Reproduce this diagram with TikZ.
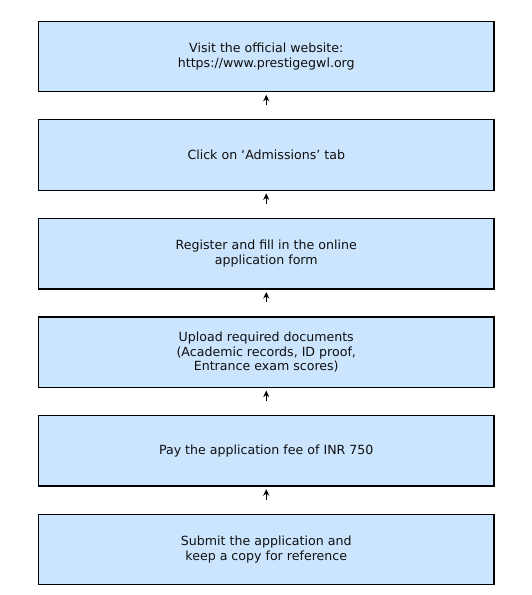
\documentclass[tikz,border=0pt]{standalone}
\usepackage{fontspec}
\setmainfont{DejaVu Sans}
\usetikzlibrary{arrows.meta}
\definecolor{boxfill}{RGB}{204,229,255}
\definecolor{txt}{RGB}{15,15,15}
\tikzset{
  stepbox/.style={draw=black, line width=1.3pt, fill=boxfill, minimum width=455.5pt, minimum height=70.5pt, inner sep=0pt, align=center, font=\fontsize{12.6}{14.8}\selectfont, text=txt, anchor=north},
  arr/.style={-{Stealth[length=6.5pt,width=6pt]}, line width=1.2pt, shorten >=2.5pt, shorten <=14pt}
}
\begin{document}
\begin{tikzpicture}[x=1pt,y=-1pt]
\useasboundingbox (0,0) rectangle (532,595);
\node[stepbox] (b1) at (266.25,20.5) {Visit the official website:\\https://www.prestigegwl.org};
\node[stepbox] (b2) at (266.25,119.1) {Click on ‘Admissions’ tab};
\node[stepbox] (b3) at (266.25,217.7) {Register and fill in the online\\application form};
\node[stepbox] (b4) at (266.25,316.3) {Upload required documents\\(Academic records, ID proof,\\Entrance exam scores)};
\node[stepbox] (b5) at (266.25,414.9) {Pay the application fee of INR 750};
\node[stepbox] (b6) at (266.25,513.5) {Submit the application and\\keep a copy for reference};
\draw[arr] (b2.north) -- (b1.south);
\draw[arr] (b3.north) -- (b2.south);
\draw[arr] (b4.north) -- (b3.south);
\draw[arr] (b5.north) -- (b4.south);
\draw[arr] (b6.north) -- (b5.south);
\end{tikzpicture}
\end{document}
